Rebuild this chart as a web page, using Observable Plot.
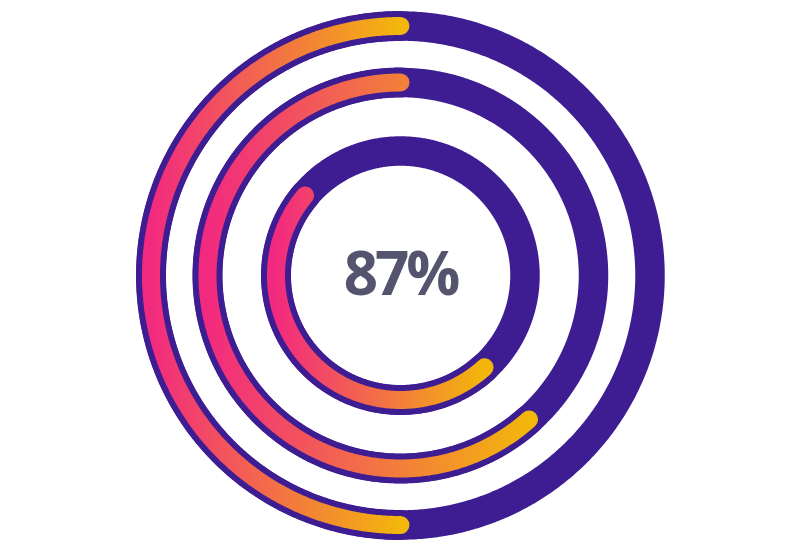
<!DOCTYPE html>
<html>
<head>
<meta charset="utf-8">
<script src="https://cdn.jsdelivr.net/npm/d3@7"></script>
<script src="https://cdn.jsdelivr.net/npm/@observablehq/plot@0.6"></script>
<style>
  html, body { margin: 0; padding: 0; background: #ffffff; }
  #chart svg { display: block; }
  #chart text { letter-spacing: -3px; }
</style>
</head>
<body>
<div id="chart"></div>
<script>
// ---- Data ----
const rings = ["outer", "middle", "inner"];
// arc extent, in percent of a full turn, measured clockwise from 12 o'clock
const arcStart = [50, 38.4, 38.2];
const arcEnd = [100, 100, 86.1];
const centerLabel = "87%";

// ---- Style / layout ----
const radius = {outer: 249.5, middle: 193, inner: 124.5};
const trackColor = "#3e1d93";
const gradFrom = "#f22a7f";
const gradTo = "#f3b70b";
const trackWidth = 29.5;
const barWidth = 18;

function arcPoints(ring, fromPct, toPct) {
  const r = radius[ring];
  const pts = [];
  const a0 = fromPct * 3.6, a1 = toPct * 3.6;
  const n = Math.max(2, Math.ceil((a1 - a0) / 0.5));
  for (let i = 0; i <= n; i++) {
    const a = (a0 + (a1 - a0) * i / n) * Math.PI / 180;
    pts.push({ring, x: r * Math.sin(a), y: r * Math.cos(a)});
  }
  return pts;
}

const tracks = rings.flatMap(ring => arcPoints(ring, 0, 100));
const arcs = rings.map((ring, i) => arcPoints(ring, arcStart[i], arcEnd[i]));

const defs = () => {
  const d = d3.create("svg:defs");
  rings.forEach(ring => {
    const g = d.append("linearGradient")
      .attr("id", `grad-${ring}`)
      .attr("x1", 0).attr("x2", 1).attr("y1", 0).attr("y2", 0);
    g.append("stop").attr("offset", "0%").attr("stop-color", gradFrom);
    g.append("stop").attr("offset", "100%").attr("stop-color", gradTo);
  });
  return d.node();
};

const chart = Plot.plot({
  width: 800,
  height: 550,
  margin: 0,
  x: {domain: [-400, 400], axis: null},
  y: {domain: [-275, 275], axis: null},
  style: {background: "#ffffff"},
  marks: [
    defs,
    Plot.line(tracks, {x: "x", y: "y", z: "ring", stroke: trackColor, strokeWidth: trackWidth, curve: "linear"}),
    ...arcs.map((pts, i) => Plot.line(pts, {
      x: "x", y: "y",
      stroke: trackColor,
      strokeWidth: barWidth + 12,
      strokeLinecap: "round",
      curve: "linear"
    })),
    ...arcs.map((pts, i) => Plot.line(pts, {
      x: "x", y: "y",
      stroke: `url(#grad-${rings[i]})`,
      strokeWidth: barWidth,
      strokeLinecap: "round",
      curve: "linear"
    })),
    Plot.text([centerLabel], {
      x: () => 0, y: () => 0,
      text: d => d,
      fontSize: 60,
      fontWeight: 700,
      fontFamily: "'Open Sans', sans-serif",
      fill: "#54546e",
      textAnchor: "middle",
      lineAnchor: "middle"
    })
  ]
});

document.getElementById("chart").appendChild(chart);
</script>
</body>
</html>
